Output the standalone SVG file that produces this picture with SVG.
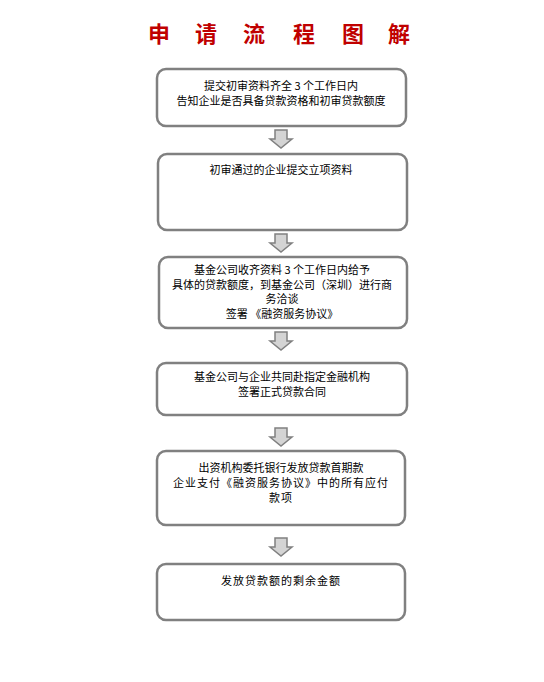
<svg xmlns="http://www.w3.org/2000/svg" width="544" height="682" viewBox="0 0 544 682">
<defs>
<style>
.box{fill:#fff;stroke:#808080;stroke-width:2.5}
.t{font-family:"Noto Sans CJK SC","Noto Sans",sans-serif;font-size:11px;fill:#000;text-anchor:middle}
.ttl{font-family:"Noto Sans CJK SC",sans-serif;font-size:22px;font-weight:bold;fill:#c00000}
.arr{fill:#d4d4d4;stroke:#808080;stroke-width:1.5;stroke-linejoin:miter}
</style>
<path id="ar" d="M -6,0 H 6 V 9 H 11 L 0,18 L -11,9 H -6 Z"/>
</defs>
<rect width="544" height="682" fill="#fff"/>
<text class="ttl" x="148 195 243 293 342 388" y="42">申请流程图解</text>

<g id="connectors">
<use href="#ar" class="arr" x="281" y="130"/>
<use href="#ar" class="arr" x="281" y="234"/>
<use href="#ar" class="arr" x="281" y="332"/>
<use href="#ar" class="arr" x="281" y="428"/>
<use href="#ar" class="arr" x="281" y="538"/>
</g>

<g id="n1">
<rect class="box" x="157" y="69" width="249" height="57" rx="9"/>
<text class="t" x="281" y="89.5">提交初审资料齐全 3 个工作日内</text>
<text class="t" x="281" y="105">告知企业是否具备贷款资格和初审贷款额度</text>
</g>

<g id="n2">
<rect class="box" x="158" y="154" width="249" height="76" rx="9"/>
<text class="t" x="281" y="174">初审通过的企业提交立项资料</text>
</g>

<g id="n3">
<rect class="box" x="159" y="257" width="248" height="71" rx="9"/>
<text class="t" x="282" y="274">基金公司收齐资料 3 个工作日内给予</text>
<text class="t" x="282" y="288.5">具体的贷款额度，到基金公司（深圳）进行商</text>
<text class="t" x="282" y="303">务洽谈</text>
<text class="t" x="282" y="317.5">签署 《融资服务协议》</text>
</g>

<g id="n4">
<rect class="box" x="157" y="363" width="250" height="52" rx="9"/>
<text class="t" x="282" y="381">基金公司与企业共同赴指定金融机构</text>
<text class="t" x="282" y="395.5">签署正式贷款合同</text>
</g>

<g id="n5">
<rect class="box" x="157" y="451" width="248" height="74" rx="9"/>
<text class="t" x="281" y="472">出资机构委托银行发放贷款首期款</text>
<text class="t" x="281" y="487" letter-spacing="1">企业支付《融资服务协议》中的所有应付</text>
<text class="t" x="281" y="501.5" letter-spacing="1">款项</text>
</g>

<g id="n6">
<rect class="box" x="157" y="564" width="248" height="56" rx="9"/>
<text class="t" x="281" y="585" letter-spacing="1">发放贷款额的剩余金额</text>
</g>
</svg>
